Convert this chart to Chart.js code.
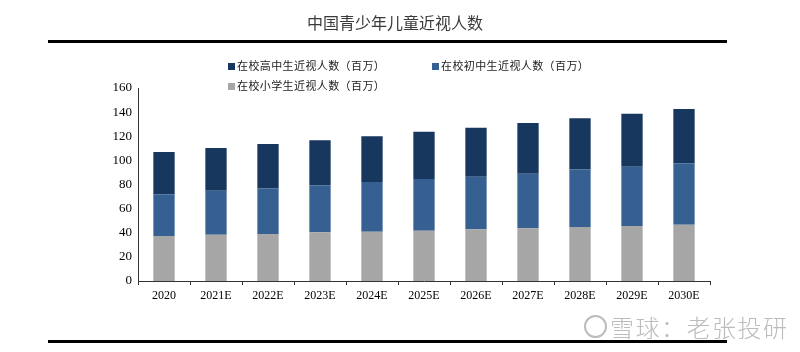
<!DOCTYPE html>
<html><head><meta charset="utf-8">
<script src="https://cdn.jsdelivr.net/npm/chart.js@4/dist/chart.umd.min.js"></script>
<style>
html,body{margin:0;padding:0;background:#fff;}
#wrap{position:relative;width:800px;height:352px;overflow:hidden;}
#c{position:absolute;left:0;top:0;}
.title{position:absolute;left:0;width:790px;top:10px;text-align:center;font-family:"Noto Sans CJK SC";font-size:16px;color:#3a3a3a;}
.rule{position:absolute;height:3px;background:#000;}
.leg{position:absolute;font-family:"Noto Sans CJK SC";font-size:11px;letter-spacing:0.4px;color:#222;white-space:nowrap;line-height:14px;}
.leg i{display:inline-block;width:7px;height:7px;margin-right:2px;vertical-align:0px;}
.wm{position:absolute;left:610px;top:309px;font-family:"Noto Sans CJK SC";font-size:24px;font-weight:300;color:#bcbcbc;white-space:nowrap;letter-spacing:1.5px;}
.logo{position:absolute;left:584px;top:315px;width:19px;height:19px;border:2px solid #bcbcbc;border-radius:50%;}
</style></head>
<body><div id="wrap">
<canvas id="c" width="800" height="352"></canvas>
<div class="title">中国青少年儿童近视人数</div>
<div class="rule" style="left:48px;width:679px;top:40px;"></div>
<div class="rule" style="left:48px;width:679px;top:340px;"></div>
<div class="leg" style="left:228px;top:58px;"><i style="background:#17375E"></i>在校高中生近视人数（百万）</div>
<div class="leg" style="left:432px;top:58px;"><i style="background:#376092"></i>在校初中生近视人数（百万）</div>
<div class="leg" style="left:228px;top:78px;"><i style="background:#A6A6A6"></i>在校小学生近视人数（百万）</div>
<div class="logo"></div>
<div class="wm">雪球：老张投研</div>
</div>
<script>
const categories = ["2020","2021E","2022E","2023E","2024E","2025E","2026E","2027E","2028E","2029E","2030E"];
const primary = [37.3,38.4,39.0,40.4,40.9,41.7,42.9,43.7,44.8,45.6,46.7];
const junior  = [34.7,36.5,37.6,38.9,41.2,42.9,43.6,45.3,47.8,49.2,50.9];
const senior  = [35.0,35.4,37.0,37.4,37.9,39.2,40.6,42.0,42.3,43.9,45.0];
const yTicks = [0,20,40,60,80,100,120,140,160];

new Chart(document.getElementById('c'), {
  type: 'bar',
  data: {
    labels: categories,
    datasets: [
      {label:'在校小学生近视人数（百万）', data: primary, backgroundColor:'#A6A6A6'},
      {label:'在校初中生近视人数（百万）', data: junior, backgroundColor:'#376092'},
      {label:'在校高中生近视人数（百万）', data: senior, backgroundColor:'#17375E'}
    ]
  },
  options: {
    responsive:false, animation:false,
    datasets:{bar:{categoryPercentage:1, barPercentage:0.41}},
    layout:{padding:{top:88,right:90,left:0,bottom:0}},
    plugins:{legend:{display:false}, tooltip:{enabled:false}},
    scales:{
      x:{
        stacked:true,
        border:{color:'#333', width:1},
        grid:{display:true, drawOnChartArea:false, drawTicks:true, tickLength:4, color:'#333', offset:true},
        ticks:{color:'#000', padding:4, font:{family:'"Liberation Serif"', size:12}},
        afterFit(s){ s.height = 71; }
      },
      y:{
        stacked:true, min:0, max:160,
        afterBuildTicks(s){ s.ticks = yTicks.map(v=>({value:v})); },
        border:{color:'#333', width:1},
        grid:{display:false, drawTicks:false},
        ticks:{color:'#000', padding:6, font:{family:'"Liberation Serif"', size:13}},
        afterFit(s){ s.width = 138; }
      }
    }
  }
});
</script>
</body></html>
